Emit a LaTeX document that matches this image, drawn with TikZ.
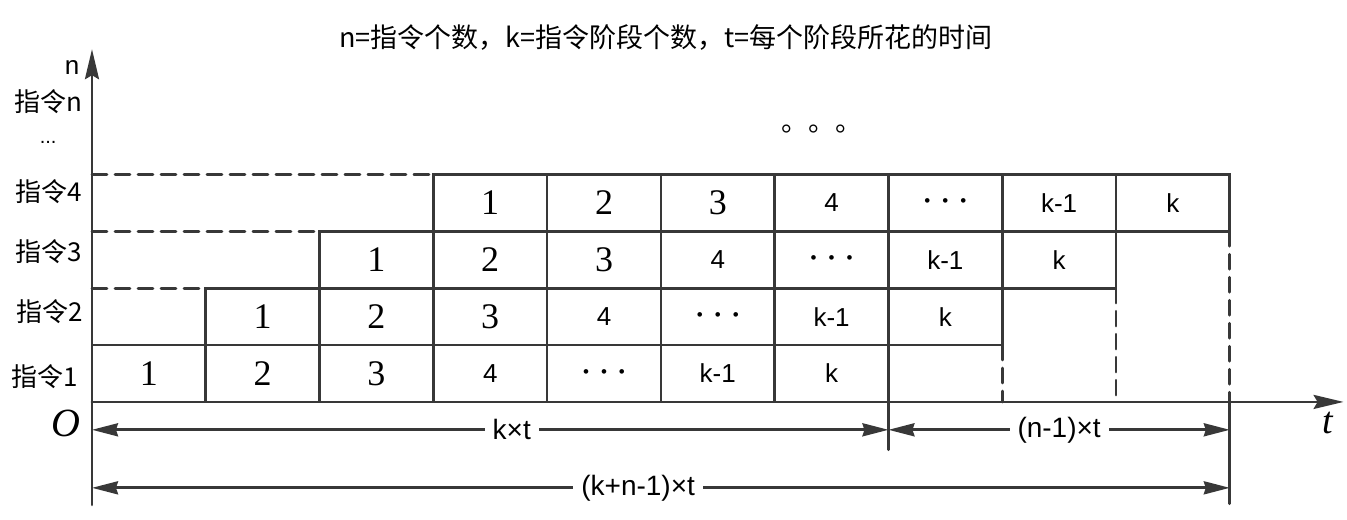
\documentclass[tikz,border=0pt]{standalone}
\usepackage{fontspec}
\setmainfont{Liberation Sans}
\newfontfamily\cjk{Noto Sans CJK SC}
\newfontfamily\stageserif{Liberation Serif}
\usepackage{tkz-euclide}
\usetikzlibrary{calc}
\usetikzlibrary{positioning}
\usetikzlibrary{arrows.meta}

\newcommand{\stagedots}{{\fontsize{8.5}{8.5}\selectfont •\hspace{6pt}•\hspace{6pt}•}}

\begin{document}
\begin{tikzpicture}[%
  >={Stealth[length=13pt,width=6.5pt,inset=1pt]},
  gridline/.style={line width=1.35pt,draw=black!78},
  dashline/.style={gridline,dash pattern=on 7.5pt off 4pt},
  axisline/.style={gridline,-{Stealth[length=15pt,width=7pt,inset=2pt]}},
  dimline/.style={gridline,<->},
  dimlabel/.style={fill=white,inner sep=4pt,font=\fontsize{14}{14}\selectfont},
  rowlabel/.style={font=\cjk\fontsize{13}{13}\selectfont},
  cell/.style={font=\fontsize{13}{13}\selectfont},
]

  \useasboundingbox (-1.617,-2.074) rectangle (22.06,7.065);

  \tkzDefPoint(0.0, 0.0){O}
  \tkzDefPoint(0.0,-1.81){Yb}
  \tkzDefPoint(0.0, 6.2){Yt}
  \tkzDefPoint(22.0,0.0){Tx}

  \tkzDefPoint(0.0, 2.0){L2}
  \tkzDefPoint(2.0, 2.0){S2}
  \tkzDefPoint(0.0, 3.0){L3}
  \tkzDefPoint(4.0, 3.0){S3}
  \tkzDefPoint(0.0, 4.0){L4}
  \tkzDefPoint(6.0, 4.0){S4}

  \tkzDefPoint(16.0,1.0){E1}
  \tkzDefPoint(16.0,0.0){F1}
  \tkzDefPoint(18.0,2.0){E2}
  \tkzDefPoint(18.0,0.0){F2}
  \tkzDefPoint(20.0,3.0){E3}
  \tkzDefPoint(20.0,0.0){F3}

  \tkzDefPoint(14.0, 0.0){M}
  \tkzDefPoint(14.0,-0.84){Mb}
  \tkzDefPoint(20.0,-1.79){F3b}

  \tkzDefPoint(0.0,-0.49){K0}
  \tkzDefPoint(14.0,-0.49){K1}
  \tkzDefPoint(20.0,-0.49){K2}
  \tkzDefPoint(0.0,-1.51){W0}
  \tkzDefPoint(20.0,-1.51){W1}

  \foreach \r/\s in {1/0,2/2,3/4,4/6}{
    \foreach \lab [count=\i from 0] in {1,2,3,4,\stagedots,k-1,k}{
      \draw[gridline] (\s+2*\i,\r-1) rectangle ++(2,1);
      \node[cell] (c\r\i) at (\s+2*\i+1,\r-0.5)
        {\ifnum\i<3 \stageserif\fontsize{18}{18}\selectfont\fi\lab};
    }
  }

  \tkzDrawSegments[dashline](L2,S2 L3,S3 L4,S4 E1,F1 E2,F2 E3,F3)
  \tkzDrawSegments[gridline](M,Mb F3,F3b)
  \tkzDrawSegments[axisline](Yb,Yt O,Tx)
  \tkzDrawSegments[dimline](K0,K1 K1,K2 W0,W1)

  \tkzDefPointOnLine[pos=0.527](K0,K1)
  \tkzGetPoint{kt}
  \tkzDefPointOnLine[pos=0.5](K1,K2)
  \tkzGetPoint{nt}
  \tkzDefPointOnLine[pos=0.48](W0,W1)
  \tkzGetPoint{knt}

  \node[dimlabel] (ktlab) at (kt) {k×t};
  \node[dimlabel] (ntlab) at (nt) {(n-1)×t};
  \node[dimlabel] (kntlab) at (knt) {(k+n-1)×t};

  \node[font=\cjk\fontsize{13.5}{13.5}\selectfont] (title) at (10.09,6.40)
    {n=指令个数，k=指令阶段个数，t=每个阶段所花的时间};
  \node[font=\cjk\fontsize{13.5}{13.5}\selectfont] (more) at (12.83,4.79) {。。。};

  \node[cell] (nlab) at (-0.35,5.87) {n};
  \node[rowlabel] (rn) at (-0.77,5.27) {指令n};
  \node[font=\fontsize{10}{10}\selectfont] (rdots) at (-0.77,4.57) {...};
  \node[rowlabel] (r4) at (-0.76,3.69) {指令4};
  \node[rowlabel] (r3) at (-0.76,2.64) {指令3};
  \node[rowlabel] (r2) at (-0.74,1.58) {指令2};
  \node[rowlabel] (r1) at (-0.83,0.44) {指令1};
  \node[font=\stageserif\itshape\fontsize{20}{20}\selectfont] (olab) at (-0.46,-0.37) {O};
  \node[font=\stageserif\itshape\fontsize{19}{19}\selectfont] (tlab) at (21.72,-0.37) {t};

\end{tikzpicture}
\end{document}
